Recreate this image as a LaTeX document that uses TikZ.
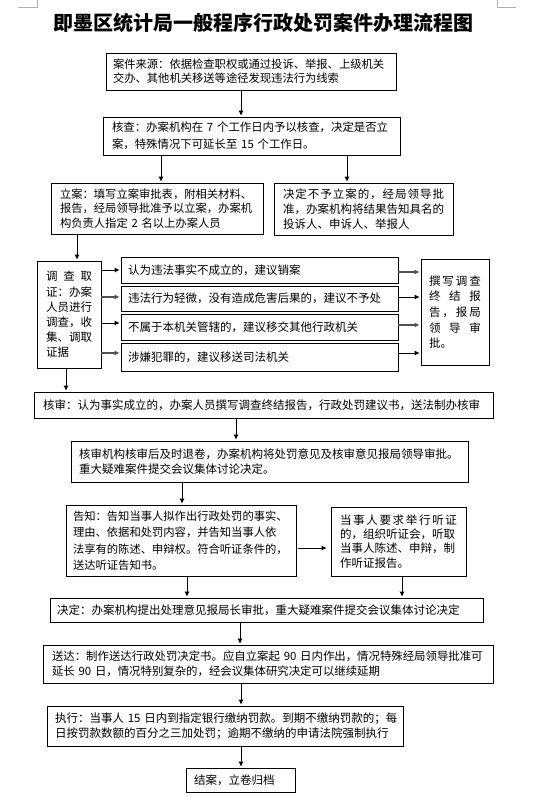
\documentclass[tikz,border=0pt]{standalone}
\usepackage{fontspec}
\setmainfont{Noto Sans CJK SC}
\usetikzlibrary{arrows.meta}
\begin{document}
\begin{tikzpicture}[x=1pt,y=-1pt,
  box/.style={draw, line width=0.8pt, rectangle, inner ysep=0pt, align=left, font=\fontsize{11.5}{15}\selectfont},
  arr/.style={draw, line width=0.8pt, -{Latex[length=5pt,width=5pt]}, shorten >=1pt},
  garr/.style={arr, draw=black!68, line width=1.5pt},
  cornermark/.style={draw=black!30, line width=0.6pt}
]
\useasboundingbox (0,0) rectangle (536,797);
\fill[white] (0,0) rectangle (536,797);
% corner marks
\draw[cornermark] (18,7) -- (37,7) -- (37,0);
\draw[cornermark] (497,0) -- (497,7) -- (516,7);

\node[font=\fontsize{20}{24}\selectfont\bfseries] (title) at (263,23) {即墨区统计局一般程序行政处罚案件办理流程图};

\node[box, minimum width=290pt, minimum height=37pt, text width=276pt, inner xsep=7pt, font=\fontsize{11.3}{14}\selectfont] (src) at (251,71.5)
  {案件来源：依据检查职权或通过投诉、举报、上级机关\\交办、其他机关移送等途径发现违法行为线索};

\node[box, minimum width=297pt, minimum height=38pt, text width=279pt, inner xsep=9pt, font=\fontsize{11.4}{17}\selectfont] (check) at (251.5,136)
  {核查：办案机构在~7~个工作日内予以核查，决定是否立\\案，特殊情况下可延长至~15~个工作日。};

\node[box, minimum width=212pt, minimum height=51pt, text width=194pt, inner xsep=9pt, font=\fontsize{11.3}{14.5}\selectfont] (lian) at (157,208.5)
  {立案：填写立案审批表，附相关材料、\\报告，经局领导批准予以立案，办案机\\构负责人指定~2~名以上办案人员};

\node[box, minimum width=179pt, minimum height=52pt, text width=161pt, inner xsep=9pt, font=\fontsize{11.5}{15}\selectfont] (no) at (363.5,209)
  {\makebox[161pt][s]{决\hfil 定\hfil 不\hfil 予\hfil 立\hfil 案\hfil 的\hfil ，\hfil 经\hfil 局\hfil 领\hfil 导\hfil 批}\\准，办案机构将结果告知具名的\\投诉人、申诉人、举报人};

\node[box, minimum width=64pt, minimum height=107pt, text width=46pt, inner xsep=9pt, font=\fontsize{11.5}{15.2}\selectfont] (inv) at (69,314.5)
  {\makebox[46pt][s]{调\hfil 查\hfil 取}\\证：办案\\人员进行\\调查，收\\集、调取\\证据};

\node[box, minimum width=277pt, minimum height=26pt, text width=263pt, inner xsep=7pt] (ma) at (259.5,270) {认为违法事实不成立的，建议销案};
\node[box, minimum width=277pt, minimum height=25pt, text width=263pt, inner xsep=7pt] (mb) at (259.5,298.5) {违法行为轻微，没有造成危害后果的，建议不予处};
\node[box, minimum width=277pt, minimum height=26pt, text width=263pt, inner xsep=7pt] (mc) at (259.5,327) {不属于本机关管辖的，建议移交其他行政机关};
\node[box, minimum width=277pt, minimum height=28pt, text width=263pt, inner xsep=7pt] (md) at (259.5,357) {涉嫌犯罪的，建议移送司法机关};

\node[box, minimum width=68pt, minimum height=106pt, text width=52pt, inner xsep=8pt, font=\fontsize{11.5}{15.7}\selectfont] (rep) at (455,312)
  {\makebox[52pt][s]{撰\hfil 写\hfil 调\hfil 查}\\\makebox[52pt][s]{终\hfil 结\hfil 报}\\\makebox[52pt][s]{告\hfil ，\hfil 报\hfil 局}\\\makebox[52pt][s]{领\hfil 导\hfil 审}\\批。\\[8pt]};

\node[box, minimum width=459pt, minimum height=26pt, text width=441pt, inner xsep=9pt] (rev) at (263.5,405)
  {核审：认为事实成立的，办案人员撰写调查终结报告，行政处罚建议书，送法制办核审};

\node[box, minimum width=397pt, minimum height=41pt, text width=381pt, inner xsep=8pt] (rev2) at (269.5,461.5)
  {核审机构核审后及时退卷，办案机构将处罚意见及核审意见报局领导审批。\\重大疑难案件提交会议集体讨论决定。};

\node[box, minimum width=230pt, minimum height=71pt, text width=216pt, inner xsep=7pt, font=\fontsize{11.3}{16.5}\selectfont] (notify) at (181,540.5)
  {告知：告知当事人拟作出行政处罚的事实、\\理由、依据和处罚内容，并告知当事人依\\法享有的陈述、申辩权。符合听证条件的，\\送达听证告知书。};

\node[box, minimum width=135pt, minimum height=69pt, text width=117pt, inner xsep=9pt, font=\fontsize{11.5}{14.2}\selectfont] (hear) at (398.5,541.5)
  {\makebox[117pt][s]{当\hfil 事\hfil 人\hfil 要\hfil 求\hfil 举\hfil 行\hfil 听\hfil 证}\\的，组织听证会，听取\\当事人陈述、申辩，制\\作听证报告。};

\node[box, minimum width=433pt, minimum height=24pt, text width=419pt, inner xsep=7pt] (dec) at (266.5,610)
  {决定：办案机构提出处理意见报局长审批，重大疑难案件提交会议集体讨论决定};

\node[box, minimum width=450pt, minimum height=38pt, text width=432pt, inner xsep=9pt, font=\fontsize{11.4}{15}\selectfont] (deliver) at (268,664)
  {送达：制作送达行政处罚决定书。应自立案起~90~日内作出，情况特殊经局领导批准可\\延长~90~日，情况特别复杂的，经会议集体研究决定可以继续延期};

\node[box, minimum width=356pt, minimum height=40pt, text width=340pt, inner xsep=8pt, font=\fontsize{11.5}{14.5}\selectfont] (exec) at (225,726)
  {执行：当事人~15~日内到指定银行缴纳罚款。到期不缴纳罚款的；每\\日按罚款数额的百分之三加处罚；逾期不缴纳的申请法院强制执行};

\node[box, minimum width=109pt, minimum height=24pt, text width=93pt, inner xsep=8pt] (end) at (240.5,780) {结案，立卷归档};

% helper coordinates
\coordinate (x241) at (241,0);
\coordinate (x161) at (161,0);
\coordinate (x347) at (347,0);
\coordinate (x77) at (77,0);
\coordinate (x66) at (66,0);
\coordinate (x236) at (236,0);
\coordinate (x182) at (182,0);
\coordinate (x187) at (187,0);
\coordinate (x402) at (402,0);
\coordinate (x240) at (240,0);
\coordinate (ya) at (0,270);
\coordinate (yb) at (0,297);
\coordinate (yc) at (0,323);
\coordinate (yd) at (0,353);
\coordinate (ya2) at (0,272);
\coordinate (yc2) at (0,325);
\coordinate (yn) at (0,548);

\draw[arr] (src.south -| x241) -- (check.north -| x241);
\draw[arr] (check.south -| x161) -- (lian.north -| x161);
\draw[arr] (check.south -| x347) -- (no.north -| x347);
\draw[arr] (lian.south -| x77) -- (inv.north -| x77);

\draw[arr] (inv.east |- ya) -- (ma.west |- ya);
\draw[garr] (inv.east |- yb) -- (mb.west |- yb);
\draw[arr] (inv.east |- yc) -- (mc.west |- yc);
\draw[garr] (inv.east |- yd) -- (md.west |- yd);

\draw[garr] (ma.east |- ya2) -- (rep.west |- ya2);
\draw[arr] (mb.east |- yb) -- (rep.west |- yb);
\draw[garr] (mc.east |- yc2) -- (rep.west |- yc2);
\draw[arr] (md.east |- yd) -- (rep.west |- yd);

\draw[arr] (inv.south -| x66) -- (rev.north -| x66);
\draw[arr] (rev.south -| x236) -- (rev2.north -| x236);
\draw[arr] (rev2.south -| x182) -- (notify.north -| x182);
\draw[arr, shorten <=2pt, shorten >=4pt] (notify.east |- yn) -- (hear.west |- yn);
\draw[arr] (notify.south -| x187) -- (dec.north -| x187);
\draw[arr] (hear.south -| x402) -- (dec.north -| x402);
\draw[arr] (dec.south -| x240) -- (deliver.north -| x240);
\draw[arr] (deliver.south -| x241) -- (exec.north -| x241);
\draw[arr] (exec.south -| x241) -- (end.north -| x241);
\end{tikzpicture}
\end{document}
